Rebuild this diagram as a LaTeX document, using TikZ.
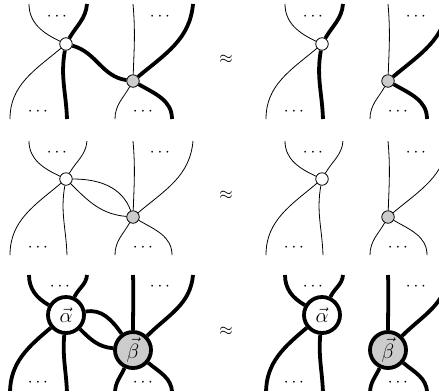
\documentclass[tikz,border=0pt]{standalone}
\begin{document}
\begin{tikzpicture}[x=1bp,y=1bp,
  thinl/.style={line width=0.8bp},
  thickl/.style={line width=3.8bp},
  smallnode/.style={circle,draw,line width=0.8bp,minimum size=12.5bp,inner sep=0pt},
  bignode/.style={circle,draw,line width=3.8bp,minimum size=36bp,inner sep=0pt,font=\fontsize{20}{24}\selectfont},
  wfill/.style={fill=white},
  gfill/.style={fill=black!20},
  dotsn/.style={font=\fontsize{17}{20}\selectfont,inner sep=0pt},
  approxn/.style={font=\fontsize{16}{19}\selectfont,inner sep=0pt},
]
\path[use as bounding box] (0,0) rectangle (439,-390);
\clip (0,0) rectangle (439,-390);

% ---------------- Row 1 ----------------
\begin{scope}
\node[smallnode,wfill] (a1) at (66,-44) {};
\node[smallnode,gfill] (b1) at (133,-81) {};
\draw[thinl] (29,-4) to[out=-90,in=155] (a1);
\draw[thickl] (87,-4) to[out=-95,in=60] (a1);
\draw[thinl] (a1) to[out=-140,in=90] (10,-119);
\draw[thickl] (a1) to[out=-100,in=92] (67,-119);
\draw[thickl] (a1) to[out=-15,in=172] (b1);
\draw[thinl] (133,-4) to[out=-85,in=88] (b1);
\draw[thickl] (193,-4) to[out=-95,in=40] (b1);
\draw[thinl] (b1) to[out=-120,in=90] (115,-119);
\draw[thickl] (b1) to[out=-30,in=90] (172,-119);
\node[dotsn] (d1a) at (57,-16.5) {$\cdots$};
\node[dotsn] (d1b) at (160,-16.5) {$\cdots$};
\node[dotsn] (d1c) at (38,-111.5) {$\cdots$};
\node[dotsn] (d1d) at (143,-111.5) {$\cdots$};

\node[approxn] (e1) at (226,-59) {$\approx$};

\node[smallnode,wfill] (a1r) at (322,-44) {};
\node[smallnode,gfill] (b1r) at (388,-81) {};
\draw[thinl] (285,-4) to[out=-90,in=155] (a1r);
\draw[thickl] (343,-4) to[out=-95,in=60] (a1r);
\draw[thinl] (a1r) to[out=-140,in=90] (266,-119);
\draw[thickl] (a1r) to[out=-100,in=92] (323,-119);
\draw[thinl] (388,-4) to[out=-85,in=88] (b1r);
\draw[thickl] (448,-4) to[out=-95,in=40] (b1r);
\draw[thinl] (b1r) to[out=-120,in=90] (370,-119);
\draw[thickl] (b1r) to[out=-30,in=90] (427,-119);
\node[dotsn] (d1e) at (313,-16.5) {$\cdots$};
\node[dotsn] (d1f) at (416,-16.5) {$\cdots$};
\node[dotsn] (d1g) at (294,-111.5) {$\cdots$};
\node[dotsn] (d1h) at (398,-111.5) {$\cdots$};
\end{scope}

% ---------------- Row 2 ----------------
\begin{scope}[yshift=-136bp]
\node[smallnode,wfill] (a2) at (66,-43) {};
\node[smallnode,gfill] (b2) at (133,-81) {};
\draw[thinl] (29,-5) to[out=-90,in=155] (a2);
\draw[thinl] (87,-5) to[out=-95,in=60] (a2);
\draw[thinl] (a2) to[out=-140,in=90] (10,-119);
\draw[thinl] (a2) to[out=-100,in=92] (67,-119);
\draw[thinl] (a2) to[out=0,in=110] (b2);
\draw[thinl] (a2) to[out=-45,in=175] (b2);
\draw[thinl] (133,-5) to[out=-85,in=88] (b2);
\draw[thinl] (193,-5) to[out=-95,in=40] (b2);
\draw[thinl] (b2) to[out=-120,in=90] (115,-119);
\draw[thinl] (b2) to[out=-30,in=90] (172,-119);
\node[dotsn] (d2a) at (57,-16.5) {$\cdots$};
\node[dotsn] (d2b) at (160,-16.5) {$\cdots$};
\node[dotsn] (d2c) at (38,-111.5) {$\cdots$};
\node[dotsn] (d2d) at (143,-111.5) {$\cdots$};

\node[approxn] (e2) at (226,-59) {$\approx$};

\node[smallnode,wfill] (a2r) at (322,-43) {};
\node[smallnode,gfill] (b2r) at (388,-81) {};
\draw[thinl] (285,-5) to[out=-90,in=155] (a2r);
\draw[thinl] (343,-5) to[out=-95,in=60] (a2r);
\draw[thinl] (a2r) to[out=-140,in=90] (266,-119);
\draw[thinl] (a2r) to[out=-100,in=92] (323,-119);
\draw[thinl] (388,-5) to[out=-85,in=88] (b2r);
\draw[thinl] (448,-5) to[out=-95,in=40] (b2r);
\draw[thinl] (b2r) to[out=-120,in=90] (370,-119);
\draw[thinl] (b2r) to[out=-30,in=90] (427,-119);
\node[dotsn] (d2e) at (313,-16.5) {$\cdots$};
\node[dotsn] (d2f) at (416,-16.5) {$\cdots$};
\node[dotsn] (d2g) at (294,-111.5) {$\cdots$};
\node[dotsn] (d2h) at (398,-111.5) {$\cdots$};
\end{scope}

% ---------------- Row 3 ----------------
\begin{scope}[yshift=-272bp]
\node[bignode,wfill] (a3) at (66,-43) {$\vec{\alpha}$};
\node[bignode,gfill] (b3) at (133,-78) {$\vec{\beta}$};
\draw[thickl] (29,-3) to[out=-90,in=150] (a3);
\draw[thickl] (87,-3) to[out=-95,in=65] (a3);
\draw[thickl] (a3) to[out=-140,in=90] (10,-121);
\draw[thickl] (a3) to[out=-95,in=92] (67,-121);
\draw[thickl] (a3) to[out=10,in=125] (b3);
\draw[thickl] (a3) to[out=-45,in=175] (b3);
\draw[thickl] (133,-3) to[out=-88,in=90] (b3);
\draw[thickl] (193,-3) to[out=-95,in=45] (b3);
\draw[thickl] (b3) to[out=-115,in=90] (115,-121);
\draw[thickl] (b3) to[out=-40,in=90] (172,-121);
\node[dotsn] (d3a) at (60,-14.5) {$\cdots$};
\node[dotsn] (d3b) at (160,-14.5) {$\cdots$};
\node[dotsn] (d3c) at (38,-110.5) {$\cdots$};
\node[dotsn] (d3d) at (143,-110.5) {$\cdots$};

\node[approxn] (e3) at (226,-59) {$\approx$};

\node[bignode,wfill] (a3r) at (322,-43) {$\vec{\alpha}$};
\node[bignode,gfill] (b3r) at (388,-78) {$\vec{\beta}$};
\draw[thickl] (285,-3) to[out=-90,in=150] (a3r);
\draw[thickl] (343,-3) to[out=-95,in=65] (a3r);
\draw[thickl] (a3r) to[out=-140,in=90] (266,-121);
\draw[thickl] (a3r) to[out=-95,in=92] (323,-121);
\draw[thickl] (388,-3) to[out=-88,in=90] (b3r);
\draw[thickl] (448,-3) to[out=-95,in=45] (b3r);
\draw[thickl] (b3r) to[out=-115,in=90] (370,-121);
\draw[thickl] (b3r) to[out=-40,in=90] (427,-121);
\node[dotsn] (d3e) at (313,-14.5) {$\cdots$};
\node[dotsn] (d3f) at (416,-14.5) {$\cdots$};
\node[dotsn] (d3g) at (294,-110.5) {$\cdots$};
\node[dotsn] (d3h) at (398,-110.5) {$\cdots$};
\end{scope}
\end{tikzpicture}
\end{document}
